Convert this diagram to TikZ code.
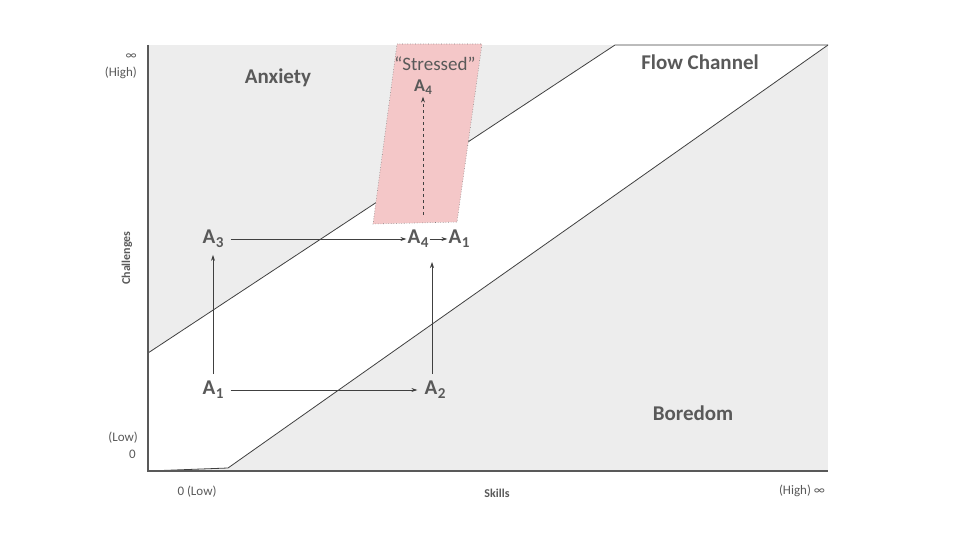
\documentclass[tikz,border=0pt]{standalone}
\usepackage{fontspec}
\setmainfont{Carlito}
\usetikzlibrary{arrows.meta}
\definecolor{txt}{HTML}{595959}
\definecolor{ln}{HTML}{404040}
\definecolor{bg}{HTML}{EDEDED}
\definecolor{pinkf}{HTML}{F4C7C8}
\tikzset{
  lbl/.style={text=txt, font=\fontsize{21}{24}\selectfont\bfseries, inner sep=7pt},
  axlbl/.style={text=txt, font=\fontsize{13}{15}\selectfont, inner sep=0pt},
  axname/.style={text=txt, font=\fontsize{12}{14}\selectfont\bfseries, inner sep=0pt},
  region/.style={text=txt, font=\fontsize{21}{24}\selectfont\bfseries, inner sep=0pt},
  conn/.style={draw=ln, line width=0.7pt, -{Stealth[length=6pt,width=4pt]}},
  diag/.style={draw=ln, line width=0.8pt},
}
\newcommand{\Asub}[1]{A\kern0.5pt\raisebox{-0.18em}{\scalebox{0.72}{#1}}}
\begin{document}
\begin{tikzpicture}[x=1pt,y=-1pt]
\useasboundingbox (0,0) rectangle (960,540);
% background
\fill[bg] (148,45) rectangle (828,471);
\fill[white] (148,353) -- (615,45) -- (828,45) -- (228,468) -- (148,471) -- cycle;
\draw[diag] (148,353) -- (615,45) -- (828,45);
\draw[diag] (828,45) -- (228,468) -- (148,471);
% axes
\draw[txt, line width=2pt] (148,45) -- (148,471) -- (828,471);
% pink stressed area
\fill[pinkf] (397,44) -- (482,44) -- (457,222) -- (373,224) -- cycle;
\draw[gray, dotted, line width=0.6pt] (397,44) -- (482,44) -- (457,222) -- (373,224) -- cycle;
% region labels
\node[region] (anx) at (278,78) {Anxiety};
\node[region] (flow) at (700,62) {Flow Channel};
\node[region] (bor) at (693,413) {Boredom};
\node[text=txt, font=\fontsize{19}{22}\selectfont, inner sep=0pt] (str) at (435,64) {“Stressed”};
% axis labels
\node[axlbl, anchor=east] (inf1) at (137,57) {∞};
\node[axlbl, anchor=east] (high1) at (137,73) {(High)};
\node[axlbl, anchor=east] (low1) at (138,438) {(Low)};
\node[axlbl, anchor=east] (zero1) at (136,454) {0};
\node[axlbl] (low2) at (197,492) {0 (Low)};
\node[axlbl] (high2) at (802,491) {(High) ∞};
\node[axname] (skills) at (497,493) {Skills};
\node[axname, rotate=90] (chal) at (127,258) {Challenges};
% states
\node[lbl] (a1) at (213,390) {\Asub{1}};
\node[lbl] (a2) at (435,390) {\Asub{2}};
\node[lbl] (a3) at (213,239) {\Asub{3}};
\node[lbl, inner sep=1pt] (a4m) at (418,239) {\Asub{4}};
\node[lbl, inner sep=1pt] (a1m) at (459,239) {\Asub{1}};
\node[lbl, font=\fontsize{18}{21}\selectfont\bfseries, inner sep=2pt] (a4t) at (423,87) {\Asub{4}};
\coordinate (a2top) at (432,262);
\coordinate (dashbot) at (423,215);
% connectors
\draw[conn] (a1) -- (a3);
\draw[conn] (a1) -- (a2);
\draw[conn] (a3) -- (a4m);
\draw[conn] (a4m) -- (a1m);
\draw[conn] (a2top |- a2.north) -- (a2top);
\draw[conn, dashed] (dashbot) -- (dashbot |- a4t.south);
\end{tikzpicture}
\end{document}
